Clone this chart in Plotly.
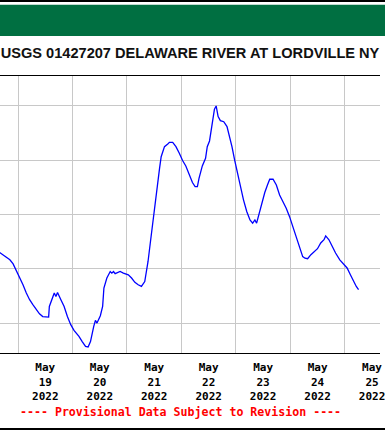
import pandas as pd
import plotly.graph_objects as go

# ---- data -------------------------------------------------------------
times = [
    "2022-05-18 15:10", "2022-05-18 17:12", "2022-05-18 18:56", "2022-05-18 20:23", "2022-05-18 21:49", "2022-05-18 23:17",
    "2022-05-19 00:44", "2022-05-19 02:10", "2022-05-19 03:38", "2022-05-19 05:05", "2022-05-19 06:31", "2022-05-19 07:59",
    "2022-05-19 09:26", "2022-05-19 10:52", "2022-05-19 13:28", "2022-05-19 13:47", "2022-05-19 15:13", "2022-05-19 15:57",
    "2022-05-19 16:41", "2022-05-19 17:23", "2022-05-19 18:52", "2022-05-19 20:18", "2022-05-19 21:44", "2022-05-19 23:13",
    "2022-05-20 00:39", "2022-05-20 02:50", "2022-05-20 04:16", "2022-05-20 05:44", "2022-05-20 06:52", "2022-05-20 07:55",
    "2022-05-20 09:21", "2022-05-20 10:05", "2022-05-20 10:47", "2022-05-20 12:16", "2022-05-20 13:16", "2022-05-20 13:50",
    "2022-05-20 15:08", "2022-05-20 16:37", "2022-05-20 17:19", "2022-05-20 18:03", "2022-05-20 18:47", "2022-05-20 20:58",
    "2022-05-20 22:24",
    "2022-05-21 00:35", "2022-05-21 02:01", "2022-05-21 03:29", "2022-05-21 04:56", "2022-05-21 06:22", "2022-05-21 07:50",
    "2022-05-21 08:32", "2022-05-21 09:17", "2022-05-21 10:27", "2022-05-21 11:27", "2022-05-21 12:11", "2022-05-21 12:53",
    "2022-05-21 13:38", "2022-05-21 14:22", "2022-05-21 15:04", "2022-05-21 16:32", "2022-05-21 17:59", "2022-05-21 18:43",
    "2022-05-21 20:09", "2022-05-21 21:35", "2022-05-21 23:04",
    "2022-05-22 00:30", "2022-05-22 01:56", "2022-05-22 03:25", "2022-05-22 04:51", "2022-05-22 06:02", "2022-05-22 07:02",
    "2022-05-22 07:46", "2022-05-22 09:12", "2022-05-22 10:38", "2022-05-22 11:23", "2022-05-22 12:23", "2022-05-22 13:15",
    "2022-05-22 13:52", "2022-05-22 14:33", "2022-05-22 15:18", "2022-05-22 16:10", "2022-05-22 17:10", "2022-05-22 18:39",
    "2022-05-22 20:05", "2022-05-22 21:05", "2022-05-22 22:16", "2022-05-22 23:26",
    "2022-05-23 00:26", "2022-05-23 01:52", "2022-05-23 03:21", "2022-05-23 04:47", "2022-05-23 06:13", "2022-05-23 07:23",
    "2022-05-23 08:23", "2022-05-23 09:08", "2022-05-23 10:08", "2022-05-23 11:18", "2022-05-23 12:44", "2022-05-23 13:55",
    "2022-05-23 14:55", "2022-05-23 16:23", "2022-05-23 17:50", "2022-05-23 19:16", "2022-05-23 20:44", "2022-05-23 22:11",
    "2022-05-23 23:37",
    "2022-05-24 01:06", "2022-05-24 02:32", "2022-05-24 03:58", "2022-05-24 05:27", "2022-05-24 06:27", "2022-05-24 07:37",
    "2022-05-24 09:04", "2022-05-24 10:29", "2022-05-24 11:58", "2022-05-24 13:24", "2022-05-24 14:50", "2022-05-24 15:35",
    "2022-05-24 17:01", "2022-05-24 18:30", "2022-05-24 19:56", "2022-05-24 21:48", "2022-05-24 23:32",
    "2022-05-25 01:01", "2022-05-25 02:28", "2022-05-25 03:53", "2022-05-25 05:04", "2022-05-25 06:04",
]

gage_height_ft = [
    3.464, 3.452, 3.443, 3.433, 3.418, 3.394,
    3.369, 3.341, 3.311, 3.286, 3.268, 3.249, 3.234, 3.224, 3.222, 3.261, 3.298, 3.311,
    3.298, 3.313, 3.286, 3.261, 3.224, 3.194,
    3.173, 3.151, 3.132, 3.114, 3.112, 3.132, 3.188, 3.210, 3.200, 3.227, 3.261, 3.329,
    3.366, 3.390, 3.384, 3.390, 3.382, 3.390, 3.384,
    3.378, 3.366, 3.350, 3.341, 3.335, 3.353, 3.384, 3.427, 3.507, 3.580, 3.629, 3.679,
    3.728, 3.771, 3.813, 3.850, 3.860, 3.866, 3.866, 3.850, 3.826,
    3.799, 3.779, 3.746, 3.718, 3.703, 3.703, 3.734, 3.779, 3.807, 3.850, 3.871, 3.918,
    3.967, 3.988, 4.000, 3.961, 3.946, 3.942, 3.924, 3.893, 3.850, 3.801,
    3.764, 3.703, 3.654, 3.611, 3.580, 3.568, 3.580, 3.568, 3.599, 3.642, 3.681, 3.709,
    3.730, 3.730, 3.709, 3.672, 3.648, 3.623, 3.593,
    3.556, 3.519, 3.482, 3.445, 3.439, 3.437, 3.452, 3.464, 3.474, 3.495, 3.507, 3.521,
    3.507, 3.482, 3.458, 3.433, 3.415,
    3.403, 3.378, 3.353, 3.335, 3.323,
]

tick_days = ["2022-05-19", "2022-05-20", "2022-05-21", "2022-05-22",
             "2022-05-23", "2022-05-24", "2022-05-25"]
tick_labels = ["May<br>19<br>2022", "May<br>20<br>2022", "May<br>21<br>2022", "May<br>22<br>2022",
               "May<br>23<br>2022", "May<br>24<br>2022", "May<br>25<br>2022"]
y_grid = [3.2, 3.4, 3.6, 3.8, 4.0]

title_text = "USGS 01427207 DELAWARE RIVER AT LORDVILLE NY"
note_text = "---- Provisional Data Subject to Revision ----"

# ---- figure -----------------------------------------------------------
W, H = 385, 430
M_T, M_B = 76, 77
plot_h = H - M_T - M_B


def py(pix):
    """pixel row (from top of image) -> paper y"""
    return (H - M_B - pix) / plot_h


midnights = pd.to_datetime(tick_days)
noons = midnights + pd.Timedelta(hours=12)

fig = go.Figure()
fig.add_trace(go.Scatter(
    x=pd.to_datetime(times), y=gage_height_ft, mode="lines",
    line=dict(color="#0000FF", width=1.3), hoverinfo="skip", showlegend=False,
))

mono = "DejaVu Sans Mono, Liberation Mono, monospace"

fig.update_layout(
    width=W, height=H,
    margin=dict(l=0, r=0, t=M_T, b=M_B, pad=0),
    paper_bgcolor="white", plot_bgcolor="white",
    showlegend=False,
    title=dict(
        text=title_text, x=0.5, xanchor="center", xref="paper",
        y=1 - 52.5 / H, yanchor="middle", yref="container",
        font=dict(family="Liberation Sans, Arial, sans-serif", size=14.6, color="#111111", weight="bold"),
    ),
    xaxis=dict(
        type="date",
        range=["2022-05-18 16:02", "2022-05-25 15:31"],
        tickmode="array", tickvals=noons, ticktext=tick_labels,
        ticks="", showgrid=False, zeroline=False,
        showline=True, linecolor="black", linewidth=1, mirror=True,
        tickfont=dict(family=mono, size=11, color="black", weight="bold"),
        ticklabeloverflow="allow",
        ticklabelstandoff=4,
        minor=dict(tickmode="array", tickvals=midnights, showgrid=True,
                   gridcolor="#C8C8C8", gridwidth=1, ticks=""),
    ),
    yaxis=dict(
        range=[3.0897, 4.1104],
        tickmode="array", tickvals=y_grid,
        showticklabels=False, ticks="",
        showgrid=True, gridcolor="#C8C8C8", gridwidth=1,
        zeroline=False, showline=False,
    ),
    shapes=[
        dict(type="line", xref="paper", yref="paper", x0=-0.02, x1=1.02,
             y0=py(1), y1=py(1), line=dict(color="black", width=2)),
        dict(type="rect", xref="paper", yref="paper", x0=-0.02, x1=1.02,
             y0=py(36), y1=py(4.7), fillcolor="#006F41", line=dict(width=0)),
        dict(type="line", xref="paper", yref="paper", x0=-0.02, x1=1.02,
             y0=py(429), y1=py(429), line=dict(color="black", width=2)),
    ],
    annotations=[
        dict(text=note_text, xref="paper", yref="paper",
             x=182.5 / W, y=py(411.7), xanchor="center", yanchor="middle",
             showarrow=False,
             font=dict(family=mono, size=11.6, color="#FF0000", weight="bold")),
    ],
)

fig.write_html(
    "out.html",
    config={"displayModeBar": False},
    post_script="document.body.style.margin='0';document.body.style.padding='0';"
                "document.documentElement.style.overflow='hidden';document.body.style.overflow='hidden';",
)
